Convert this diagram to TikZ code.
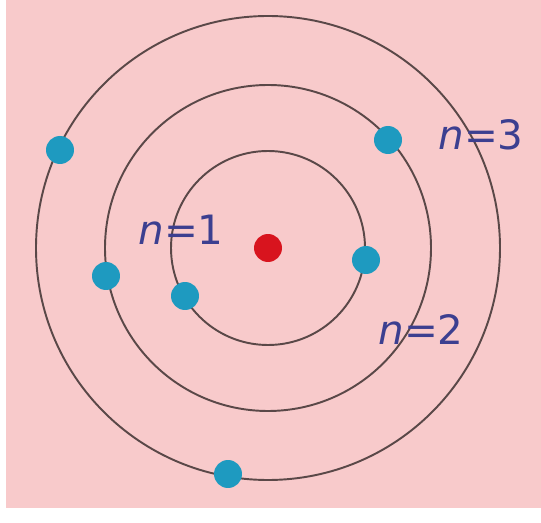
\documentclass[tikz,border=0pt]{standalone}
\usepackage{fontspec}
\setmainfont{DejaVu Sans}
\usepackage{xcolor}
\definecolor{bgpink}{HTML}{F8CACB}
\definecolor{orbitline}{HTML}{5A4848}
\definecolor{elblue}{HTML}{1E9AC0}
\definecolor{nucred}{HTML}{D8141E}
\definecolor{labblue}{HTML}{3C3F90}
\tikzset{
  electron/.style={circle,fill=elblue,minimum size=0.56cm,inner sep=0pt},
  nucleus/.style={circle,fill=nucred,minimum size=0.56cm,inner sep=0pt},
  shell/.style={text=labblue,font=\fontsize{23}{26}\selectfont,inner sep=0pt}
}
\begin{document}
\begin{tikzpicture}[x=0.02cm,y=-0.02cm]
\useasboundingbox (0,0) rectangle (541,523);
% background
\fill[white] (0,0) rectangle (541,523);
\fill[bgpink] (6,0) rectangle (541,508);
% orbits
\draw[orbitline,line width=1.1pt] (268,248) circle (97)
      (268,248) circle (163)
      (268,248) circle (232);
% nucleus and electrons
\node[nucleus] (nuc) at (268,248) {};
\node[electron] (e1) at (185,296) {};
\node[electron] (e2) at (366,260) {};
\node[electron] (e3) at (106,276) {};
\node[electron] (e4) at (388,140) {};
\node[electron] (e5) at (60,150) {};
\node[electron] (e6) at (228,474) {};
% labels
\node[shell] (n1) at (181,230) {\textit{n}=1};
\node[shell] (n2) at (421,330) {\textit{n}=2};
\node[shell] (n3) at (481,135) {\textit{n}=3};
\end{tikzpicture}
\end{document}
